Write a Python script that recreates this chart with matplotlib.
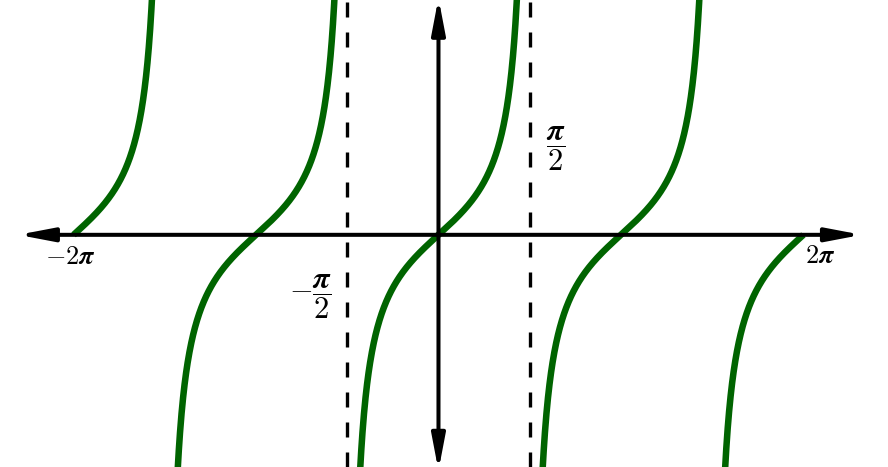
import numpy as np
import matplotlib.pyplot as plt

plt.rcParams["mathtext.fontset"] = "cm"

# branches of tan(x) between -2pi and 2pi, split at the asymptotes
branch_edges = [-2 * np.pi, -1.5 * np.pi, -0.5 * np.pi, 0.5 * np.pi, 1.5 * np.pi, 2 * np.pi]
asymptotes = [-0.5 * np.pi, 0.5 * np.pi]
label_x = [-2 * np.pi, 2 * np.pi]
label_x_text = [r"$\boldsymbol{-2\pi}$", r"$\boldsymbol{2\pi}$"]
label_asym_text = [r"$\boldsymbol{-}\dfrac{\boldsymbol{\pi}}{\boldsymbol{2}}$", r"$\dfrac{\boldsymbol{\pi}}{\boldsymbol{2}}$"]

fig = plt.figure(figsize=(8.88, 4.67), dpi=100)
ax = fig.add_axes([0, 0, 1, 1])
ax.set_xlim(-7.55, 7.74)
ax.set_ylim(-4.38, 4.43)
ax.axis("off")

green = "#006400"
for a, b in zip(branch_edges[:-1], branch_edges[1:]):
    x = np.linspace(a, b, 600)
    # drop the points right at the asymptotes
    if np.isclose(np.cos(a), 0):
        x = x[1:]
    if np.isclose(np.cos(b), 0):
        x = x[:-1]
    y = np.tan(x)
    y[np.abs(y) > 6] = np.nan
    ax.plot(x, y, color=green, lw=4.7, solid_capstyle="butt", zorder=3)

for xa in asymptotes:
    ax.axvline(xa, color="black", lw=2.4, dashes=(4.5, 4.5), zorder=2)

arrow = dict(arrowstyle="<|-|>,head_length=1.05,head_width=0.2", mutation_scale=20,
             color="black", lw=2.9, shrinkA=0, shrinkB=0)
ax.annotate("", xy=(7.29, 0), xytext=(-7.24, 0), arrowprops=arrow, zorder=4,
            annotation_clip=False)
ax.annotate("", xy=(0, 4.47), xytext=(0, -4.45), arrowprops=arrow, zorder=4,
            annotation_clip=False)

ax.text(label_x[0] - 0.06, -0.42, label_x_text[0], fontsize=19, ha="center", va="center")
ax.text(label_x[1] + 0.28, -0.40, label_x_text[1], fontsize=19, ha="center", va="center")
ax.text(asymptotes[0] - 0.63, -1.17, label_asym_text[0], fontsize=22, ha="center", va="center")
ax.text(asymptotes[1] + 0.45, 1.62, label_asym_text[1], fontsize=22, ha="center", va="center")

fig.savefig("out.png", dpi=100)
